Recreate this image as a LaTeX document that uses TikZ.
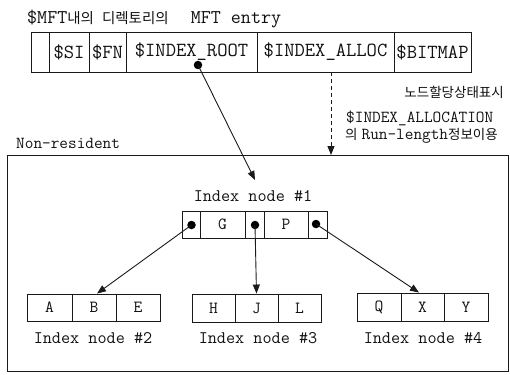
\documentclass[tikz,border=0pt]{standalone}
\usepackage{fontspec}
\newfontfamily\krfont{Noto Sans CJK KR}
\usetikzlibrary{arrows.meta}
\newcommand\ko[1]{{\krfont\fontsize{13.5}{15}\selectfont #1}}
\newcommand\kobig[1]{{\krfont\fontsize{14.5}{16}\selectfont #1}}
\definecolor{ink}{HTML}{111111}
\definecolor{rule}{HTML}{1A1A1A}
\begin{document}
\begin{tikzpicture}[x=1pt,y=-1pt,
  lbl/.style={inner sep=0, text=ink, font=\ttfamily\fontsize{17.7}{20}\selectfont},
  lblsmall/.style={inner sep=0, text=ink, font=\ttfamily\fontsize{16.8}{19}\selectfont},
  cell/.style={draw=rule, line width=0.9pt, inner sep=0, text=ink,
    font=\ttfamily\fontsize{17}{19}\selectfont},
  topcell/.style={cell, minimum height=40pt, font=\ttfamily\fontsize{20}{22}\selectfont},
  ptr/.style={circle, fill=black, inner sep=0, minimum size=8.5pt},
  link/.style={draw=rule, line width=0.9pt, -{Triangle[length=9pt,width=7pt]}},
]
\useasboundingbox (0,0) rectangle (510,374);

% MFT entry of the directory
\node[lbl, anchor=base west, font=\ttfamily\fontsize{19.5}{21}\selectfont]
  (title) at (27,24) {\$MFT\kobig{내의}\hspace{8pt}\kobig{디렉토리의}\hspace{22pt}MFT entry};

\node[topcell, minimum width=18pt]  (e0)     at (40,52)    {};
\node[topcell, minimum width=40pt]  (si)     at (69,52)    {\$SI};
\node[topcell, minimum width=37pt]  (fn)     at (107.5,52) {\$FN};
\node[topcell, minimum width=131pt] (iroot)  at (191.5,52) {\$INDEX\_ROOT};
\node[topcell, minimum width=137pt] (ialloc) at (325.5,52) {\$INDEX\_ALLOC};
\node[topcell, minimum width=77pt]  (bmp)    at (432.5,52) {\$BITMAP};

\node[ptr] (rootdot) at (198,65) {};

% side notes
\node[inner sep=0, text=ink, anchor=east] (bmpnote) at (504,92) {\ko{노드할당상태표시}};
\node[lblsmall, anchor=west] (allocnote1) at (346,118.5) {\$INDEX\_ALLOCATION};
\node[lblsmall, anchor=west] (allocnote2) at (345,135.5) {\ko{의}\hspace{4pt}Run-length\ko{정보이용}};

% non-resident area
\node[lblsmall, anchor=west] (nrlabel) at (16,143.5) {Non-resident};
\node[draw=rule, line width=0.9pt, inner sep=0, anchor=north west,
  minimum width=501pt, minimum height=216pt] (nrbox) at (7,155) {};

% index node #1
\node[lbl] (lbl1) at (253,196.5) {Index node \#1};
\node[cell, minimum width=18pt, minimum height=27pt] (p1) at (191,224.5)   {};
\node[cell, minimum width=45pt, minimum height=27pt] (g)  at (222.5,224.5) {G};
\node[cell, minimum width=19pt, minimum height=27pt] (p2) at (254.5,224.5) {};
\node[cell, minimum width=44pt, minimum height=27pt] (pp) at (286,224.5)   {P};
\node[cell, minimum width=19pt, minimum height=27pt] (p3) at (317.5,224.5) {};
\node[ptr] (d1) at (191.5,225) {};
\node[ptr] (d2) at (255,225) {};
\node[ptr] (d3) at (316,224) {};

% index node #2
\node[cell, minimum width=45pt, minimum height=27pt] (a) at (49.5,307.5) {A};
\node[cell, minimum width=44pt, minimum height=27pt] (b) at (94,307.5)   {B};
\node[cell, minimum width=44pt, minimum height=27pt] (e) at (138,307.5)  {E};
\node[lbl] (lbl2) at (93,338.5) {Index node \#2};

% index node #3
\node[cell, minimum width=43pt, minimum height=28pt] (h) at (213.5,308) {H};
\node[cell, minimum width=43pt, minimum height=28pt] (j) at (256.5,308) {J};
\node[cell, minimum width=43pt, minimum height=28pt] (l) at (299.5,308) {L};
\node[lbl] (lbl3) at (258,338.5) {Index node \#3};

% index node #4
\node[cell, minimum width=44pt, minimum height=28pt] (q)  at (379,307)   {Q};
\node[cell, minimum width=43pt, minimum height=28pt] (xx) at (422.5,307) {X};
\node[cell, minimum width=44pt, minimum height=28pt] (yy) at (466,307)   {Y};
\node[lbl] (lbl4) at (423,338.5) {Index node \#4};

% connectors
\coordinate (rootin) at (255,180);
\draw[link] (rootdot.center) -- (rootin);
\coordinate (allocout) at ([xshift=5.5pt]ialloc.south);
\coordinate (allocin) at (nrbox.north -| allocout);
\draw[link, dash pattern=on 4pt off 3pt] (allocout) -- (allocin);
\draw[link] (d1.center) -- ([xshift=3pt]b.north);
\draw[link] (d2.center) -- (j.north);
\draw[link] (d3.center) -- ([xshift=-3.5pt]xx.north);
\end{tikzpicture}
\end{document}
